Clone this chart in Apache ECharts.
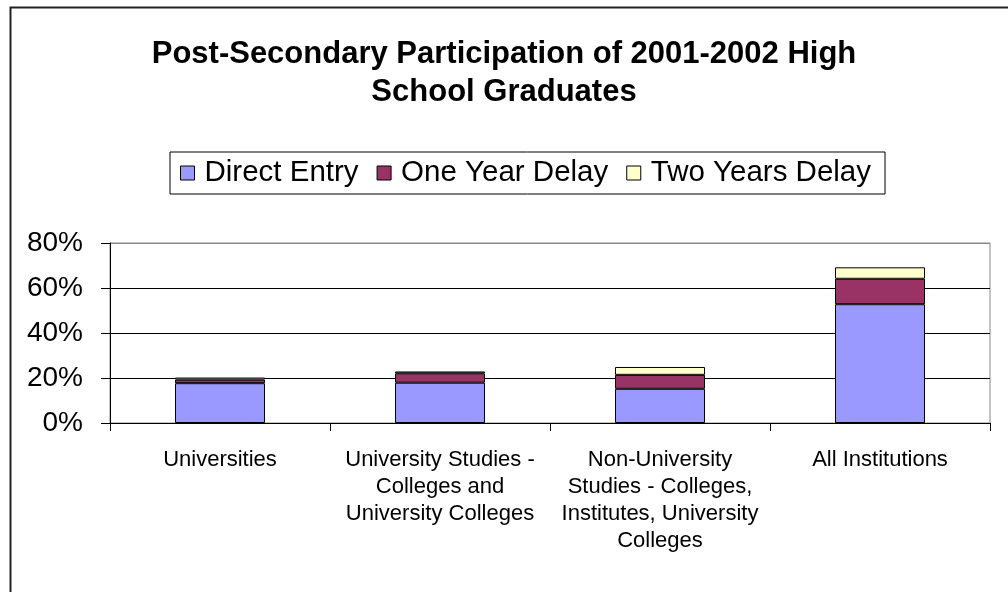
<!DOCTYPE html>
<html>
<head>
<meta charset="utf-8">
<style>
  html, body { margin: 0; padding: 0; background: #fff; }
  #chart { width: 1008px; height: 592px; }
</style>
<script src="https://cdn.jsdelivr.net/npm/echarts@6/dist/echarts.min.js"></script>
</head>
<body>
<div id="chart"></div>
<script>
// Post-secondary participation rates (%) by institution type
const categories = [
  'Universities',
  'University Studies -\nColleges and\nUniversity Colleges',
  'Non-University\nStudies - Colleges,\nInstitutes, University\nColleges',
  'All Institutions'
];
const directEntry = [17.7, 17.9, 15.2, 52.8];
const oneYearDelay = [1.6, 4.2, 6.2, 11.3];
const twoYearsDelay = [0.9, 0.8, 3.5, 5.1];
const yTicks = [0, 20, 40, 60, 80];

const FONT = 'Arial, "Liberation Sans", sans-serif';

const chart = echarts.init(document.getElementById('chart'), null, { renderer: 'canvas' });

function barSeries(name, data, color) {
  return {
    name: name,
    type: 'bar',
    stack: 'total',
    data: data,
    barWidth: 90,
    itemStyle: { color: color, borderColor: '#000', borderWidth: 1 }
  };
}

chart.setOption({
  animation: false,
  backgroundColor: '#fff',
  textStyle: { fontFamily: FONT, color: '#000' },
  graphic: [{
    type: 'rect',
    left: 8, top: 5,
    shape: { width: 1100, height: 700 },
    style: { fill: 'none', stroke: '#222', lineWidth: 2 },
    silent: true
  }],
  title: {
    text: 'Post-Secondary Participation of 2001-2002 High\nSchool Graduates',
    left: 'center',
    top: 30,
    textStyle: {
      fontFamily: FONT, fontWeight: 'bold', fontSize: 31, lineHeight: 38, color: '#000'
    }
  },
  legend: {
    left: 170,
    top: 152,
    padding: [6, 14, 6, 10],
    borderColor: '#000',
    borderWidth: 1,
    itemWidth: 14,
    itemHeight: 14,
    itemGap: 18,
    icon: 'rect',
    itemStyle: { borderColor: '#000', borderWidth: 1 },
    textStyle: { fontFamily: FONT, fontSize: 29.5, color: '#000', padding: [0, 0, 0, 5] },
    data: ['Direct Entry', 'One Year Delay', 'Two Years Delay']
  },
  grid: {
    left: 110, right: 18, top: 243, bottom: 169,
    show: true, borderColor: '#888', borderWidth: 1
  },
  xAxis: {
    type: 'category',
    data: categories,
    boundaryGap: true,
    axisLine: { lineStyle: { color: '#000', width: 1 } },
    axisTick: { show: true, alignWithLabel: false, length: 8, lineStyle: { color: '#000' } },
    axisLabel: {
      interval: 0, margin: 23, fontSize: 22, lineHeight: 27, color: '#000', fontFamily: FONT
    }
  },
  yAxis: {
    type: 'value',
    min: yTicks[0],
    max: yTicks[yTicks.length - 1],
    interval: 20,
    axisLine: { show: true, lineStyle: { color: '#000', width: 1 } },
    axisTick: { show: true, length: 9, lineStyle: { color: '#000' } },
    axisLabel: {
      margin: 27, fontSize: 28, color: '#000', fontFamily: FONT,
      formatter: '{value}%'
    },
    splitLine: {
      show: true,
      lineStyle: { color: ['#000', '#000', '#000', '#000', '#888'], width: 1 }
    }
  },
  series: [
    barSeries('Direct Entry', directEntry, '#9999FF'),
    barSeries('One Year Delay', oneYearDelay, '#993366'),
    barSeries('Two Years Delay', twoYearsDelay, '#FFFFCC')
  ]
});
</script>
</body>
</html>
